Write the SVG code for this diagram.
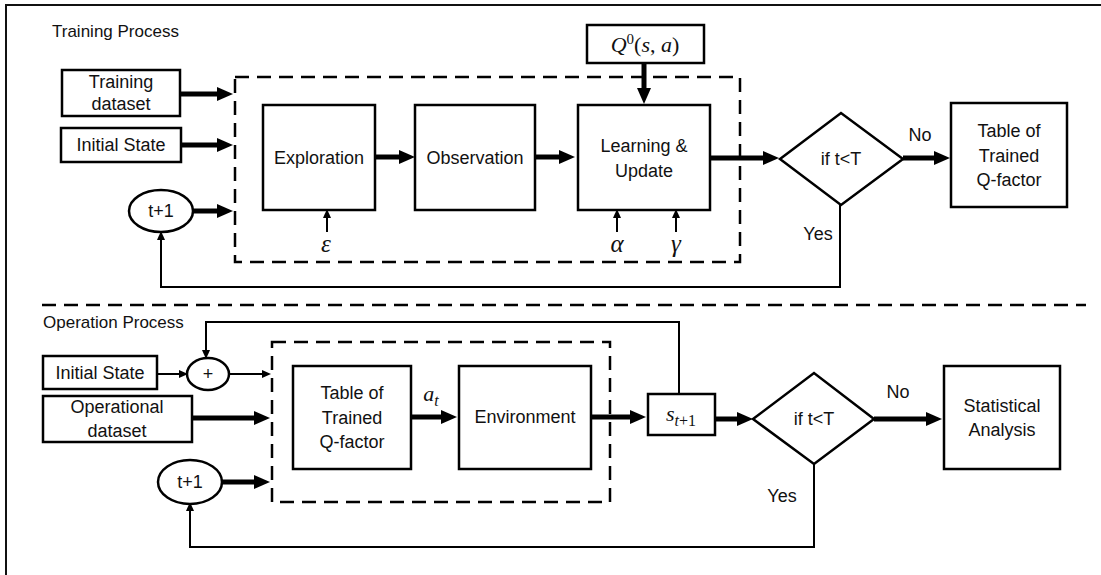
<svg xmlns="http://www.w3.org/2000/svg" width="1101" height="575" viewBox="0 0 1101 575">
  <style>
    .box { fill: #fff; stroke: #000; stroke-width: 2.5; }
    .dash { fill: none; stroke: #000; stroke-width: 2.5; stroke-dasharray: 14 8; }
    .thick { fill: none; stroke: #000; stroke-width: 5; marker-end: url(#hd); }
    .thin { fill: none; stroke: #000; stroke-width: 2; marker-end: url(#hs); }
    .lbl { font-family: "Liberation Sans", Arial, sans-serif; font-size: 18px; fill: #111; text-anchor: middle; }
    .ttl { font-family: "Liberation Sans", Arial, sans-serif; font-size: 17px; fill: #111; }
    .math { font-family: "Liberation Serif", "Times New Roman", serif; font-size: 22px; fill: #111; font-style: italic; text-anchor: middle; }
    .greek { font-size: 25px; }
    .up { font-style: normal; }
  </style>
  <defs>
    <marker id="hd" markerUnits="userSpaceOnUse" markerWidth="16" markerHeight="14" refX="4" refY="7" orient="auto">
      <path d="M0,0 L16,7 L0,14 z" fill="#000"/>
    </marker>
    <marker id="hs" markerUnits="userSpaceOnUse" markerWidth="9" markerHeight="8" refX="2" refY="4" orient="auto">
      <path d="M0,0 L9,4 L0,8 z" fill="#000"/>
    </marker>
  </defs>

  <rect width="1101" height="575" fill="#fff"/>
  <!-- outer frame (top and left edges) -->
  <path d="M6,575 V5 H1101" fill="none" stroke="#111" stroke-width="2"/>

  <!-- separator between the two processes -->
  <line x1="42" y1="305" x2="1086" y2="305" class="dash" stroke-dasharray="12 8"/>

  <text class="ttl" x="52" y="37">Training Process</text>
  <text class="ttl" x="43" y="328">Operation Process</text>

  <!-- ===== connectors ===== -->
  <g id="connectors">
    <!-- training -->
    <line x1="180" y1="94" x2="221" y2="94" class="thick"/>
    <line x1="181" y1="145" x2="221" y2="145" class="thick"/>
    <line x1="193" y1="211" x2="221" y2="211" class="thick"/>
    <line x1="375" y1="157" x2="403" y2="157" class="thick"/>
    <line x1="535" y1="157" x2="563" y2="157" class="thick"/>
    <line x1="644" y1="63" x2="644" y2="92" class="thick"/>
    <line x1="710" y1="158" x2="767" y2="158" class="thick"/>
    <line x1="903" y1="158" x2="938" y2="158" class="thick"/>
    <line x1="327" y1="232" x2="327" y2="216" class="thin"/>
    <line x1="617" y1="232" x2="617" y2="216" class="thin"/>
    <line x1="676" y1="232" x2="676" y2="216" class="thin"/>
    <polyline points="840,205 840,287 161,287 161,238" class="thin"/>

    <!-- operation -->
    <line x1="157" y1="374" x2="181" y2="374" class="thin"/>
    <line x1="229" y1="374" x2="264" y2="374" class="thin"/>
    <polyline points="679,394 679,322 206,322 206,352" class="thin"/>
    <line x1="192" y1="418" x2="258" y2="418" class="thick"/>
    <line x1="222" y1="482" x2="258" y2="482" class="thick"/>
    <line x1="411" y1="417" x2="445" y2="417" class="thick"/>
    <line x1="591" y1="417" x2="634" y2="417" class="thick"/>
    <line x1="715" y1="419" x2="741" y2="419" class="thick"/>
    <line x1="874" y1="419" x2="930" y2="419" class="thick"/>
    <polyline points="814,464 814,547 190,547 190,509" class="thin"/>
  </g>

  <!-- ===== training process nodes ===== -->
  <rect id="train-loop" x="235" y="77" width="505" height="185" class="dash"/>

  <g id="training-dataset">
    <rect x="62" y="70" width="118" height="46" class="box"/>
    <text class="lbl" x="121" y="88">Training</text>
    <text class="lbl" x="121" y="110">dataset</text>
  </g>
  <g id="initial-state-1">
    <rect x="61" y="128" width="120" height="34" class="box"/>
    <text class="lbl" x="121" y="151">Initial State</text>
  </g>
  <g id="step-1">
    <ellipse cx="161" cy="211" rx="32" ry="21" class="box"/>
    <text class="lbl" x="161" y="217">t+1</text>
  </g>
  <g id="exploration">
    <rect x="263" y="105" width="112" height="105" class="box"/>
    <text class="lbl" x="319" y="164">Exploration</text>
  </g>
  <g id="observation">
    <rect x="415" y="105" width="120" height="105" class="box"/>
    <text class="lbl" x="475" y="164">Observation</text>
  </g>
  <g id="learning">
    <rect x="578" y="105" width="132" height="105" class="box"/>
    <text class="lbl" x="644" y="152">Learning &amp;</text>
    <text class="lbl" x="644" y="177">Update</text>
  </g>
  <g id="q0">
    <rect x="587" y="25" width="117" height="38" class="box"/>
    <text class="math" x="645" y="52">Q<tspan class="up" font-size="15" dy="-8">0</tspan><tspan class="up" dy="8">(</tspan>s<tspan class="up">, </tspan>a<tspan class="up">)</tspan></text>
  </g>
  <text class="math greek" x="326" y="252">ε</text>
  <text class="math greek" x="617" y="252">α</text>
  <text class="math greek" x="676" y="252">γ</text>
  <g id="check-1">
    <polygon points="780,159 841,113 903,159 841,205" class="box"/>
    <text class="lbl" x="841" y="165">if t&lt;T</text>
  </g>
  <text class="lbl" x="920" y="141">No</text>
  <text class="lbl" x="818" y="240">Yes</text>
  <g id="trained-table-1">
    <rect x="951" y="103" width="116" height="104" class="box"/>
    <text class="lbl" x="1009" y="137">Table of</text>
    <text class="lbl" x="1009" y="162">Trained</text>
    <text class="lbl" x="1009" y="186">Q-factor</text>
  </g>

  <!-- ===== operation process nodes ===== -->
  <rect id="op-loop" x="272" y="342" width="338" height="160" class="dash"/>

  <g id="initial-state-2">
    <rect x="43" y="356" width="114" height="33" class="box"/>
    <text class="lbl" x="100" y="379">Initial State</text>
  </g>
  <g id="sum">
    <ellipse cx="208" cy="374" rx="21" ry="16" class="box"/>
    <text class="lbl" x="208" y="380">+</text>
  </g>
  <g id="operational-dataset">
    <rect x="43" y="396" width="149" height="46" class="box"/>
    <text class="lbl" x="117" y="413">Operational</text>
    <text class="lbl" x="117" y="437">dataset</text>
  </g>
  <g id="step-2">
    <ellipse cx="190" cy="482" rx="32" ry="22" class="box"/>
    <text class="lbl" x="190" y="488">t+1</text>
  </g>
  <g id="trained-table-2">
    <rect x="293" y="366" width="118" height="103" class="box"/>
    <text class="lbl" x="352" y="399">Table of</text>
    <text class="lbl" x="352" y="424">Trained</text>
    <text class="lbl" x="352" y="448">Q-factor</text>
  </g>
  <text class="math" x="431" y="401">a<tspan font-size="16" dy="5">t</tspan></text>
  <g id="environment">
    <rect x="459" y="366" width="132" height="103" class="box"/>
    <text class="lbl" x="525" y="423">Environment</text>
  </g>
  <g id="next-state">
    <rect x="648" y="394" width="67" height="41" class="box"/>
    <text class="math" x="681" y="421">s<tspan font-size="16" dy="5">t</tspan><tspan class="up" font-size="16">+1</tspan></text>
  </g>
  <g id="check-2">
    <polygon points="753,419 814,373 874,419 814,464" class="box"/>
    <text class="lbl" x="814" y="425">if t&lt;T</text>
  </g>
  <text class="lbl" x="898" y="398">No</text>
  <text class="lbl" x="782" y="502">Yes</text>
  <g id="statistical-analysis">
    <rect x="944" y="366" width="116" height="103" class="box"/>
    <text class="lbl" x="1002" y="412">Statistical</text>
    <text class="lbl" x="1002" y="436">Analysis</text>
  </g>
</svg>
